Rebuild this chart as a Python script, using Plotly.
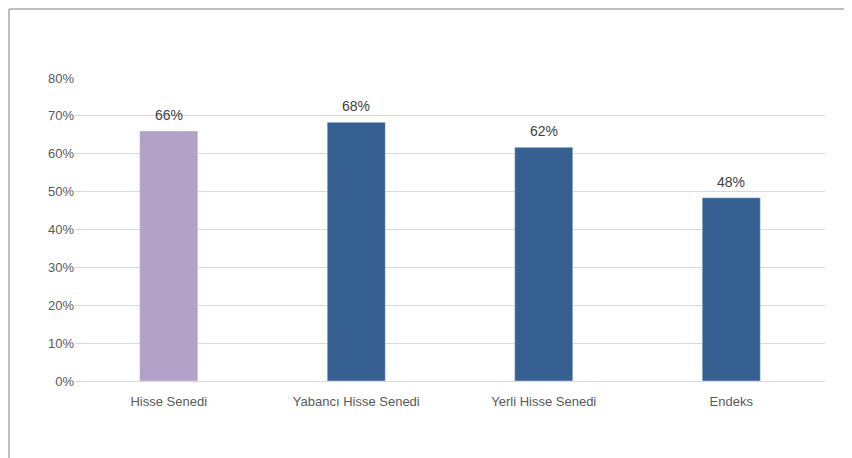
import plotly.graph_objects as go

categories = ["Hisse Senedi", "Yabancı Hisse Senedi", "Yerli Hisse Senedi", "Endeks"]
values = [0.66, 0.683, 0.617, 0.484]
colors = ["#b3a2c7", "#366092", "#366092", "#366092"]
y_ticks = [0, 0.1, 0.2, 0.3, 0.4, 0.5, 0.6, 0.7, 0.8]

fig = go.Figure(go.Bar(
    x=categories, y=values, marker_color=colors, width=0.31,
))

# value labels placed a little above each bar
for c, v in zip(categories, values):
    fig.add_annotation(x=c, y=v, text=f"{v:.0%}", showarrow=False, yanchor="bottom",
                       yshift=6, font=dict(size=14, color="#404040"))

fig.update_layout(
    width=852, height=458,
    margin=dict(l=67, r=35, t=70, b=85),
    plot_bgcolor="white", paper_bgcolor="white",
    font=dict(family="Liberation Sans", size=13, color="#595959"),
    showlegend=False,
    shapes=[dict(type="rect", xref="paper", yref="paper", x0=-0.088, x1=1.0427, y0=-0.274, y1=1.2277,
                 line=dict(color="#7f7f7f", width=1))],
)
fig.update_xaxes(showline=True, linecolor="#d9d9d9", ticks="", tickfont=dict(size=13),
                 ticklabelstandoff=8)
fig.update_yaxes(range=[0, 0.8], tickvals=y_ticks, tickformat=".0%", gridcolor="#d9d9d9",
                 zeroline=False, ticksuffix="  ", tickfont=dict(size=13))

fig.write_html("out.html")
